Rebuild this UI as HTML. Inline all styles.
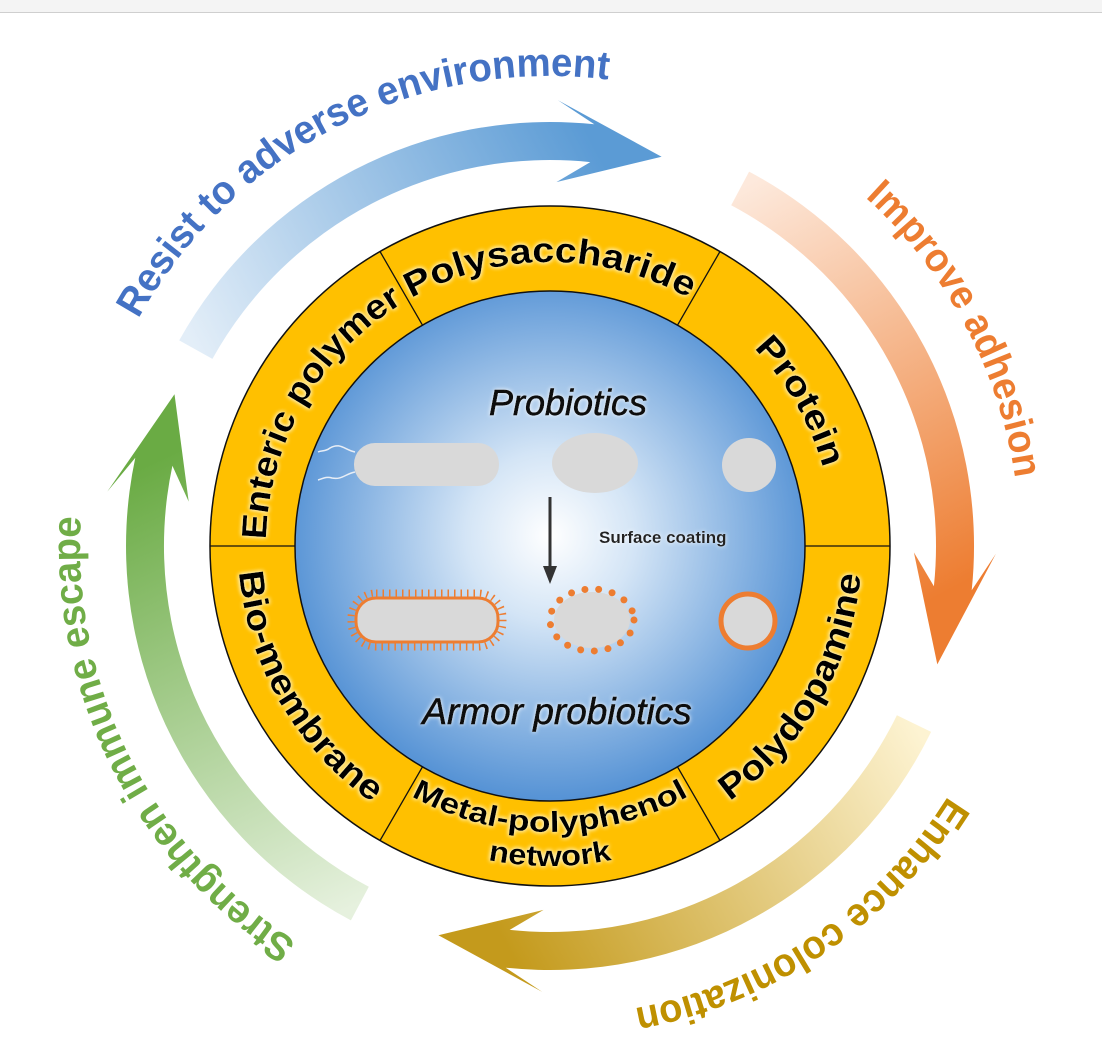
<!DOCTYPE html>
<html><head><meta charset="utf-8"><style>
html,body{margin:0;padding:0;background:#fff;}
body{width:1102px;height:1054px;overflow:hidden;position:relative;}
#bar{position:absolute;left:0;top:0;width:1102px;height:12px;background:#f4f4f4;border-bottom:1px solid #cfcfcf;}
svg{position:absolute;left:0;top:0;}
</style></head><body>
<div id="bar"></div>
<svg width="1102" height="1054" viewBox="0 0 1102 1054" xmlns="http://www.w3.org/2000/svg">
<defs>
<radialGradient id="blueg" cx="50%" cy="48%" r="55%">
<stop offset="0" stop-color="#ffffff"/>
<stop offset="0.3" stop-color="#d4e5f6"/>
<stop offset="1" stop-color="#4a8bd2"/>
</radialGradient>
<filter id="glow" x="-10%" y="-30%" width="120%" height="160%">
<feGaussianBlur in="SourceAlpha" stdDeviation="2.5" result="b"/>
<feFlood flood-color="#fff6c8"/>
<feComposite in2="b" operator="in" result="g"/>
<feMerge><feMergeNode in="g"/><feMergeNode in="g"/><feMergeNode in="SourceGraphic"/></feMerge>
</filter>
<filter id="glow2" x="-10%" y="-30%" width="120%" height="160%">
<feGaussianBlur in="SourceAlpha" stdDeviation="2" result="b"/>
<feFlood flood-color="#ffffff"/>
<feComposite in2="b" operator="in" result="g"/>
<feMerge><feMergeNode in="g"/><feMergeNode in="SourceGraphic"/></feMerge>
</filter>
<path id="tcw" d="M 264 546 A 286 286 0 0 1 836 546"/>
<path id="tcw2" d="M 266 546 A 284 284 0 0 1 834 546"/>
<path id="bccw" d="M 238 546 A 312 312 0 0 0 862 546"/>
<path id="bccw2" d="M 264 546 A 286 286 0 0 0 836 546"/>
<path id="bccw3" d="M 230 546 A 320 320 0 0 0 870 546"/>
<path id="otop" d="M 80 546 A 470 470 0 0 1 1020 546"/>
<path id="oall" d="M 1020 546 A 470 470 0 1 1 550 76"/>
</defs>

<g id="arrows"></g>

<circle cx="550" cy="546" r="340" fill="#ffc000" stroke="#111" stroke-width="1.5"/>
<circle cx="550" cy="546" r="255" fill="url(#blueg)" stroke="#111" stroke-width="1.5"/>
<g stroke="#111" stroke-width="1.3">
<line x1="210" y1="546" x2="295" y2="546"/>
<line x1="805" y1="546" x2="890" y2="546"/>
<line x1="380" y1="251.5" x2="422.5" y2="325.2"/>
<line x1="720" y1="251.5" x2="677.5" y2="325.2"/>
<line x1="380" y1="840.5" x2="422.5" y2="766.8"/>
<line x1="720" y1="840.5" x2="677.5" y2="766.8"/>
</g>

<g font-family="Liberation Sans, sans-serif" font-weight="bold" fill="#000" filter="url(#glow)">
<text font-size="35" text-anchor="middle"><textPath href="#tcw2" startOffset="16.7%" textLength="285" lengthAdjust="spacingAndGlyphs">Enteric polymer</textPath></text>
<text font-size="35" text-anchor="middle"><textPath href="#tcw2" startOffset="50%" textLength="290" lengthAdjust="spacingAndGlyphs">Polysaccharide</textPath></text>
<text font-size="35" text-anchor="middle"><textPath href="#tcw2" startOffset="83.3%" textLength="140" lengthAdjust="spacingAndGlyphs">Protein</textPath></text>
<text font-size="35" text-anchor="middle"><textPath href="#bccw" startOffset="16.7%" textLength="275" lengthAdjust="spacingAndGlyphs">Bio-membrane</textPath></text>
<text font-size="35" text-anchor="middle"><textPath href="#bccw" startOffset="83.3%" textLength="270" lengthAdjust="spacingAndGlyphs">Polydopamine</textPath></text>
<text font-size="29" text-anchor="middle"><textPath href="#bccw2" startOffset="50%" textLength="290" lengthAdjust="spacingAndGlyphs">Metal-polyphenol</textPath></text>
<text font-size="29" text-anchor="middle"><textPath href="#bccw3" startOffset="50%" textLength="125" lengthAdjust="spacingAndGlyphs">network</textPath></text>
</g>

<g font-family="Liberation Sans, sans-serif" filter="url(#glow2)">
<text x="568" y="415" font-size="36" font-style="italic" text-anchor="middle" fill="#111" stroke="#111" stroke-width="0.7">Probiotics</text>
<text x="557" y="724" font-size="37" font-style="italic" text-anchor="middle" fill="#111" stroke="#111" stroke-width="0.7">Armor probiotics</text>
<text x="599" y="543" font-size="17" font-weight="bold" fill="#222">Surface coating</text>
</g>
<g fill="#d9d9d9">
<rect x="354" y="443" width="145" height="43" rx="21"/>
<ellipse cx="595" cy="463" rx="43" ry="30"/>
<circle cx="749" cy="465" r="27"/>
</g>
<g fill="none" stroke="#e8eef6" stroke-width="1.5">
<path d="M355 452 C345 450,340 442,330 448 C325 452,322 450,318 452"/>
<path d="M355 472 C345 474,342 480,332 478 C326 476,322 479,318 480"/>
</g>
<line x1="550" y1="497" x2="550" y2="568" stroke="#333" stroke-width="3"/>
<polygon points="543,566 557,566 550,584" fill="#333"/>
<rect x="356" y="598" width="142" height="44" rx="20" fill="#d9d9d9" stroke="#ed7d31" stroke-width="3"/>
<rect x="351" y="593" width="152" height="54" rx="25" fill="none" stroke="#ed7d31" stroke-width="7" stroke-dasharray="1.5 5"/>
<ellipse cx="592" cy="620" rx="38" ry="28" fill="#d9d9d9"/>
<ellipse cx="592" cy="620" rx="42" ry="31" fill="none" stroke="#ed7d31" stroke-width="7" stroke-linecap="round" stroke-dasharray="0 13.8"/>
<circle cx="748" cy="621" r="27" fill="#d9d9d9" stroke="#ed7d31" stroke-width="5"/>

<g font-family="Liberation Sans, sans-serif" font-weight="bold" font-size="40" text-anchor="middle">
<text fill="#4472c4"><textPath href="#otop" startOffset="35%" textLength="560" lengthAdjust="spacingAndGlyphs">Resist to adverse environment</textPath></text>
<text fill="#ed7d31"><textPath href="#otop" startOffset="84.4%" textLength="325" lengthAdjust="spacingAndGlyphs">Improve adhesion</textPath></text>
<text fill="#bf9000"><textPath href="#oall" startOffset="20.7%" textLength="390" lengthAdjust="spacingAndGlyphs">Enhance colonization</textPath></text>
<text fill="#70ad47"><textPath href="#oall" startOffset="56.7%" textLength="500" lengthAdjust="spacingAndGlyphs">Strengthen immune escape</textPath></text>
</g>
</svg>
<script>
(function(){
var NS="http://www.w3.org/2000/svg",cx=550,cy=546;
var g=document.getElementById("arrows"),defs=document.querySelector("defs");
function P(a,r){var t=a*Math.PI/180;return [(cx+r*Math.cos(t)).toFixed(1),(cy+r*Math.sin(t)).toFixed(1)];}
function arrow(id,a0,ab,at,rc,w,c0,c1){
 var ro=rc+w/2,ri=rc-w/2,hw=22,bk=5;
 var p0=P(a0,ro),p1=P(ab,ro),p2=P(ab-bk,ro+hw),p3=P(at,rc),p4=P(ab-bk,ri-hw),p5=P(ab,ri),p6=P(a0,ri);
 var d="M"+p0+" A"+ro+" "+ro+" 0 0 1 "+p1+" L"+p2+" L"+p3+" L"+p4+" L"+p5+" A"+ri+" "+ri+" 0 0 0 "+p6+" Z";
 var lg=document.createElementNS(NS,"linearGradient");lg.setAttribute("id",id);lg.setAttribute("gradientUnits","userSpaceOnUse");
 var s=P(a0,rc),e=P(ab,rc);
 lg.setAttribute("x1",s[0]);lg.setAttribute("y1",s[1]);lg.setAttribute("x2",e[0]);lg.setAttribute("y2",e[1]);
 [[0,c0],[1,c1]].forEach(function(k){var st=document.createElementNS(NS,"stop");st.setAttribute("offset",k[0]);st.setAttribute("stop-color",k[1]);lg.appendChild(st);});
 defs.appendChild(lg);
 var p=document.createElementNS(NS,"path");p.setAttribute("d",d);p.setAttribute("fill","url(#"+id+")");g.appendChild(p);
}
arrow("ga",-151,-84,-74,405,38,"#e3eef8","#5b9bd5");
arrow("gb",-62,6,17,405,38,"#fde9dc","#ed7d31");
arrow("gc",26,96,106,405,38,"#fdf3d2","#c49a1c");
arrow("gd",118,192,202,405,38,"#e6f1de","#6aab44");
})();
</script>
</body></html>
